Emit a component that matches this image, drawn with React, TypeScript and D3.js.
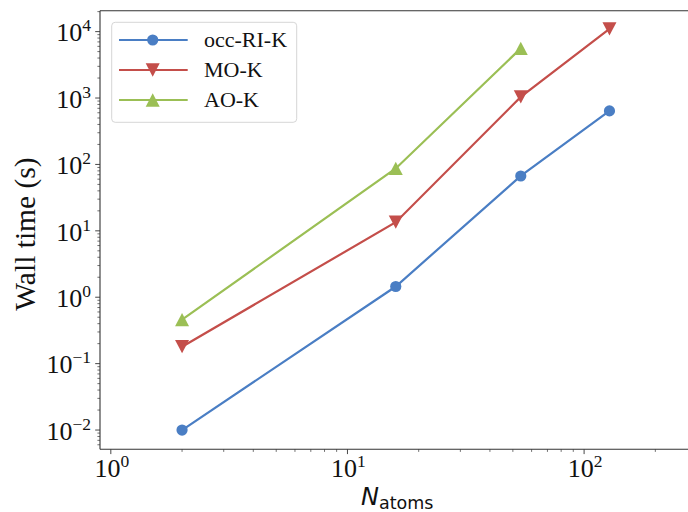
import React from "react";
import * as d3 from "d3";

const WIDTH = 688;
const HEIGHT = 512;

// Number of atoms for each system size
const atomsAll = [2, 16, 54, 128];
const atomsAO = [2, 16, 54];

// Wall time in seconds for each method
const occRIK = [0.01, 1.45, 67, 640];
const moK = [0.18, 13.5, 1040, 11000];
const aoK = [0.46, 87, 5600];

const series = [
  { name: "occ-RI-K", x: atomsAll, y: occRIK, color: "#4A7EC4", marker: "circle" },
  { name: "MO-K", x: atomsAll, y: moK, color: "#C44E4A", marker: "tri-down" },
  { name: "AO-K", x: atomsAO, y: aoK, color: "#9BBF55", marker: "tri-up" },
];

const xMajor = [0, 1, 2];
const yMajor = [-2, -1, 0, 1, 2, 3, 4];

const plot = { left: 100, right: 697, top: 10.7, bottom: 449.3 };

const x = d3.scaleLog().domain([0.9, 300]).range([plot.left, plot.right]);
const y = d3
  .scaleLog()
  .domain([Math.pow(10, -2.29), Math.pow(10, 4.315)])
  .range([plot.bottom, plot.top]);

function Marker({ kind, cx, cy, color }: { kind: string; cx: number; cy: number; color: string }) {
  if (kind === "circle") return <circle cx={cx} cy={cy} r={5.6} fill={color} />;
  const s = 7;
  const h = s * 0.95;
  if (kind === "tri-down") {
    return (
      <path
        d={`M${cx - s},${cy - h} L${cx + s},${cy - h} L${cx},${cy + h} Z`}
        fill={color}
      />
    );
  }
  return (
    <path d={`M${cx - s},${cy + h} L${cx + s},${cy + h} L${cx},${cy - h} Z`} fill={color} />
  );
}

function expLabel(e: number) {
  return e < 0 ? "\u2212" + Math.abs(e) : String(e);
}

export default function App() {
  const line = d3
    .line<[number, number]>()
    .x((d) => x(d[0]))
    .y((d) => y(d[1]));

  const yMinor: number[] = [];
  for (let e = -3; e <= 4; e++) {
    for (let m = 2; m <= 9; m++) {
      const v = m * Math.pow(10, e);
      if (v >= y.domain()[0] && v <= y.domain()[1]) yMinor.push(v);
    }
  }
  const xMinor: number[] = [];
  for (let e = 0; e <= 2; e++) {
    for (let m = 2; m <= 9; m++) {
      const v = m * Math.pow(10, e);
      if (v >= x.domain()[0] && v <= x.domain()[1]) xMinor.push(v);
    }
  }

  const serif = "'Liberation Serif', 'Times New Roman', serif";
  const sans = "'DejaVu Sans', sans-serif";
  const axisColor = "#333";

  return (
    <svg
      width={WIDTH}
      height={HEIGHT}
      style={{ position: "absolute", left: 0, top: 0, background: "#fff" }}
    >
      <defs>
        <clipPath id="plotArea">
          <rect x={plot.left} y={plot.top} width={plot.right - plot.left} height={plot.bottom - plot.top} />
        </clipPath>
      </defs>
      <rect width={WIDTH} height={HEIGHT} fill="#fff" />

      {/* data */}
      <g clipPath="url(#plotArea)">
        {series.map((s) => {
          const pts = s.x.map((v, i) => [v, s.y[i]] as [number, number]);
          return (
            <g key={s.name}>
              <path d={line(pts) || ""} fill="none" stroke={s.color} strokeWidth={2.2} />
              {pts.map((p, i) => (
                <Marker key={i} kind={s.marker} cx={x(p[0])} cy={y(p[1])} color={s.color} />
              ))}
            </g>
          );
        })}
      </g>

      {/* spines */}
      <g stroke={axisColor} strokeWidth={1.1} fill="none">
        <line x1={plot.left} y1={plot.top} x2={plot.left} y2={plot.bottom} />
        <line x1={plot.left} y1={plot.bottom} x2={plot.right} y2={plot.bottom} />
        <line x1={plot.left} y1={plot.top} x2={plot.right} y2={plot.top} />
        <line x1={plot.right} y1={plot.top} x2={plot.right} y2={plot.bottom} />
      </g>

      {/* y ticks */}
      <g stroke={axisColor} strokeWidth={0.9}>
        {yMajor.map((e) => (
          <line key={e} x1={plot.left - 4.8} x2={plot.left} y1={y(Math.pow(10, e))} y2={y(Math.pow(10, e))} />
        ))}
        {yMinor.map((v, i) => (
          <line key={i} x1={plot.left - 2.6} x2={plot.left} y1={y(v)} y2={y(v)} strokeWidth={0.7} />
        ))}
      </g>
      {yMajor.map((e) => (
        <text
          key={e}
          x={91}
          y={y(Math.pow(10, e)) + 9.8}
          textAnchor="end"
          fontFamily={serif}
          fontSize={26}
          fill="#111"
        >
          10
          <tspan fontSize={17.5} dy={-10}>
            {expLabel(e)}
          </tspan>
        </text>
      ))}

      {/* x ticks */}
      <g stroke={axisColor} strokeWidth={0.9}>
        {xMajor.map((e) => (
          <line key={e} x1={x(Math.pow(10, e))} x2={x(Math.pow(10, e))} y1={plot.bottom} y2={plot.bottom + 4.8} />
        ))}
        {xMinor.map((v, i) => (
          <line key={i} x1={x(v)} x2={x(v)} y1={plot.bottom} y2={plot.bottom + 2.6} strokeWidth={0.7} />
        ))}
      </g>
      {xMajor.map((e) => (
        <text
          key={e}
          x={x(Math.pow(10, e)) + 1}
          y={477}
          textAnchor="middle"
          fontFamily={serif}
          fontSize={26}
          fill="#111"
        >
          10
          <tspan fontSize={17.5} dy={-10}>
            {expLabel(e)}
          </tspan>
        </text>
      ))}

      {/* axis labels */}
      <text
        transform={`translate(35,${(plot.top + plot.bottom) / 2 + 4}) rotate(-90)`}
        textAnchor="middle"
        fontFamily={serif}
        fontSize={29.5}
        fill="#111"
      >
        Wall time (s)
      </text>
      <text x={361} y={505} fontFamily={sans} fill="#111">
        <tspan fontSize={24} fontStyle="italic">
          N
        </tspan>
        <tspan fontSize={17.5} dy={4}>
          atoms
        </tspan>
      </text>

      {/* legend */}
      <g>
        <rect
          x={111.7}
          y={22.3}
          width={185}
          height={100}
          rx={3.5}
          fill="#fff"
          fillOpacity={0.85}
          stroke="#d6d6d6"
          strokeWidth={1}
        />
        {series.map((s, i) => {
          const cy = 40 + i * 30;
          return (
            <g key={s.name}>
              <line x1={119} x2={187.7} y1={cy} y2={cy} stroke={s.color} strokeWidth={2.2} />
              <Marker kind={s.marker} cx={152.7} cy={cy} color={s.color} />
              <text x={204} y={cy + 7} fontFamily={serif} fontSize={22} fill="#111">
                {s.name}
              </text>
            </g>
          );
        })}
      </g>
    </svg>
  );
}
